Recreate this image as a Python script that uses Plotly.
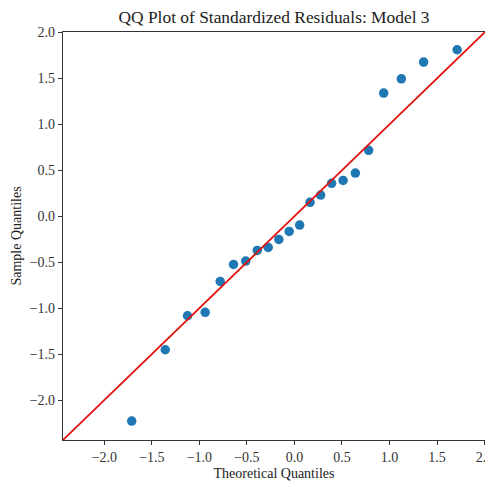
import plotly.graph_objects as go

theoretical = [-1.712, -1.359, -1.125, -0.939, -0.781, -0.641, -0.512, -0.391,
               -0.276, -0.164, -0.055, 0.055, 0.164, 0.276, 0.391, 0.512,
               0.641, 0.781, 0.939, 1.125, 1.359, 1.712]
sample = [-2.229, -1.453, -1.083, -1.046, -0.709, -0.524, -0.488, -0.372,
          -0.339, -0.252, -0.165, -0.096, 0.151, 0.231, 0.358, 0.390,
          0.470, 0.717, 1.341, 1.496, 1.678, 1.812]
axis_range = [-2.435, 2.005]
tick_vals = [-2.0, -1.5, -1.0, -0.5, 0.0, 0.5, 1.0, 1.5, 2.0]

font_family = "Liberation Serif, Times New Roman, serif"

fig = go.Figure()
fig.add_trace(go.Scatter(
    x=theoretical, y=sample, mode="markers",
    marker=dict(color="#1f77b4", size=9.5, line=dict(width=0)),
    showlegend=False,
))
fig.add_trace(go.Scatter(
    x=axis_range, y=axis_range, mode="lines",
    line=dict(color="#e0120f", width=1.8),
    showlegend=False,
))

axis_common = dict(
    range=axis_range, tickvals=tick_vals, tickformat=".1f",
    showgrid=False, zeroline=False, showline=True, mirror=True,
    linecolor="#333333", linewidth=1.3, ticks="outside", ticklen=4,
    tickwidth=1, tickcolor="#333333", automargin=False,
    ticklabeloverflow="allow",
    tickfont=dict(family=font_family, size=14, color="#333333"),
)

# The page body has an 8px margin, so the figure is sized/offset to compensate.
fig.update_layout(
    width=485, height=479,
    margin=dict(l=55, r=8, t=24, b=47, autoexpand=False),
    paper_bgcolor="white", plot_bgcolor="white",
    font=dict(family=font_family, color="#222222"),
    title=dict(text="QQ Plot of Standardized Residuals: Model 3",
               x=0.5, xref="paper", y=0.982, yref="container",
               xanchor="center", yanchor="middle", automargin=False,
               font=dict(family=font_family, size=17.4, color="#222222")),
    xaxis=dict(axis_common, title=dict(text="Theoretical Quantiles",
               font=dict(family=font_family, size=14, color="#222222"), standoff=4)),
    yaxis=dict(axis_common, title=dict(text="Sample Quantiles",
               font=dict(family=font_family, size=14, color="#222222"), standoff=4)),
)

fig.write_html("out.html")
